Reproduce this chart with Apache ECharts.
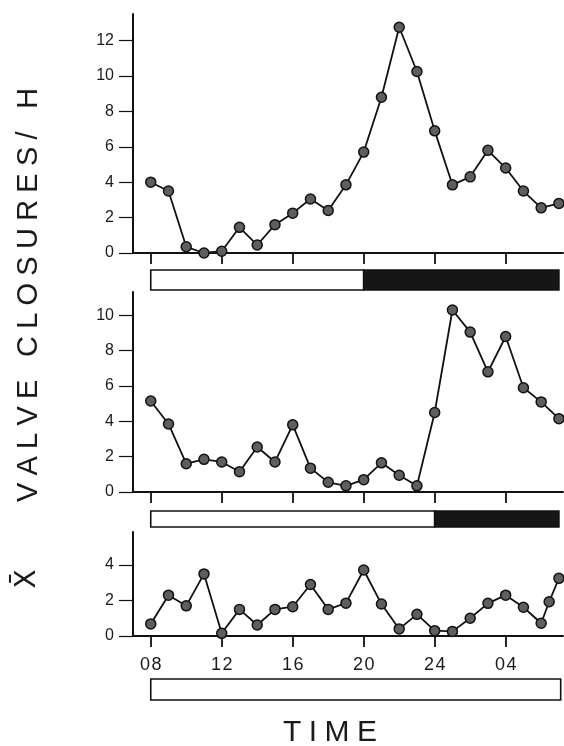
<!DOCTYPE html>
<html>
<head>
<meta charset="utf-8">
<script src="https://cdn.jsdelivr.net/npm/echarts@6/dist/echarts.min.js"></script>
<style>html,body{margin:0;padding:0;background:#fff}#c{width:564px;height:746px}</style>
</head>
<body>
<div id="c"></div>
<script>
// ---- data ----
const hoursA = [8,9,10,11,12,13,14,15,16,17,18,19,20,21,22,23,24,25,26,27,28,29,30,31];
const panel1 = [4.0,3.5,0.35,0.0,0.1,1.45,0.45,1.6,2.25,3.05,2.4,3.85,5.7,8.8,12.75,10.25,6.9,3.85,4.3,5.8,4.8,3.5,2.55,2.8];
const panel2 = [5.15,3.85,1.6,1.85,1.7,1.15,2.55,1.7,3.8,1.35,0.55,0.35,0.7,1.65,0.95,0.35,4.5,10.3,9.05,6.8,8.8,5.9,5.1,4.15];
const hoursC = [8,9,10,11,12,13,14,15,16,17,18,19,20,21,22,23,24,25,26,27,28,29,30,30.45,31];
const panel3 = [0.68,2.3,1.7,3.5,0.15,1.5,0.62,1.5,1.65,2.9,1.5,1.85,3.72,1.8,0.4,1.22,0.3,0.26,1.0,1.84,2.3,1.62,0.72,1.93,3.25];
const tickHours = [8,12,16,20,24,28];
const yTicks1 = [0,2,4,6,8,10,12];
const yTicks2 = [0,2,4,6,8,10];
const yTicks3 = [0,2,4];
// light/dark schedule bars: [start, end, dark?]
const lightDark1 = [[8,20,0],[20,31,1]];
const lightDark2 = [[8,24,0],[24,31,1]];
const lightDark3 = [[8,31.1,0]];

const X_MIN = 7, X_MAX = 31.23;
const chart = echarts.init(document.getElementById('c'), null, {renderer:'canvas'});
const FONT = 'Liberation Sans';
const BLACK = '#111';
const SP = '\u2005';

const grids = [
  {left:133, top:14, width:430, height:239},
  {left:133, top:292, width:430, height:200},
  {left:133, top:532, width:430, height:104},
  {left:133, top:270, width:430, height:20},
  {left:133, top:511, width:430, height:16},
  {left:133, top:679, width:430, height:21}
];

function fmtHour(v){ const h = v>24 ? v-24 : v; const s = (h<10?'0':'')+h; return s.split('').join('\u200A'); }

function mainX(idx, showLabels){
  return {
    type:'value', gridIndex:idx, min:X_MIN, max:X_MAX,
    axisLine:{show:true, onZero:false, lineStyle:{color:BLACK,width:2}},
    axisTick:{show:true, customValues:tickHours, length:11, lineStyle:{color:BLACK,width:1.8}},
    axisLabel:{show:showLabels, customValues:tickHours, formatter:fmtHour, margin:20,
      fontFamily:FONT, fontSize:18, color:'#1a1a1a'},
    splitLine:{show:false}
  };
}
function mainY(idx, max, ticks){
  return {
    type:'value', gridIndex:idx, min:0, max:max,
    axisLine:{show:true, lineStyle:{color:BLACK,width:2}},
    axisTick:{show:true, customValues:ticks, length:14, lineStyle:{color:BLACK,width:1.2}},
    axisLabel:{show:true, customValues:ticks, margin:19, fontFamily:FONT, fontSize:16, color:'#1a1a1a'},
    splitLine:{show:false}
  };
}
function barX(idx){ return {type:'value', gridIndex:idx, min:X_MIN, max:X_MAX, show:false}; }
function barY(idx){ return {type:'value', gridIndex:idx, min:0, max:1, show:false}; }

function lineSeries(xi, hours, vals){
  return {
    type:'line', xAxisIndex:xi, yAxisIndex:xi,
    data: hours.map((h,i)=>[h, vals[i]]),
    symbol:'circle', symbolSize:10, clip:false,
    lineStyle:{color:BLACK, width:1.8},
    itemStyle:{color:'#5e5e5e', borderColor:BLACK, borderWidth:1.5},
    z:3
  };
}
function barSeries(xi, segs){
  return {
    type:'custom', xAxisIndex:xi, yAxisIndex:xi,
    data: segs,
    renderItem:function(params, api){
      const p0 = api.coord([api.value(0), 1]);
      const p1 = api.coord([api.value(1), 0]);
      const dark = api.value(2) === 1;
      return {
        type:'rect',
        shape:{x:p0[0], y:p0[1], width:p1[0]-p0[0], height:p1[1]-p0[1]},
        style:{fill: dark ? '#161616' : '#ffffff', stroke:BLACK, lineWidth:1.6}
      };
    },
    encode:{x:[0,1]}
  };
}

const yTitle = 'VALVE CLOSURES/ H'.split('').join(SP);

const option = {
  backgroundColor:'#ffffff',
  animation:false,
  grid: grids,
  xAxis:[mainX(0,false), mainX(1,false), mainX(2,true), barX(3), barX(4), barX(5)],
  yAxis:[mainY(0,13.5,yTicks1), mainY(1,11.32,yTicks2), mainY(2,5.86,yTicks3), barY(3), barY(4), barY(5)],
  series:[
    lineSeries(0, hoursA, panel1),
    lineSeries(1, hoursA, panel2),
    lineSeries(2, hoursC, panel3),
    barSeries(3, lightDark1),
    barSeries(4, lightDark2),
    barSeries(5, lightDark3)
  ],
  graphic:[
    {type:'text', x:29, y:295, rotation:Math.PI/2,
      style:{text:yTitle, fontFamily:FONT, fontSize:29,
        fill:'#1a1a1a', align:'center', verticalAlign:'middle'}},
    {type:'text', x:28, y:579, rotation:Math.PI/2,
      style:{text:'X\u0304', fontFamily:'DejaVu Sans', fontSize:28, fill:'#1a1a1a', align:'center', verticalAlign:'middle'}},
    {type:'text', x:330, y:733,
      style:{text:'TIME'.split('').join(SP), fontFamily:FONT, fontSize:30, fill:'#1a1a1a', align:'center', verticalAlign:'middle'}}
  ]
};
chart.setOption(option);
</script>
</body>
</html>
